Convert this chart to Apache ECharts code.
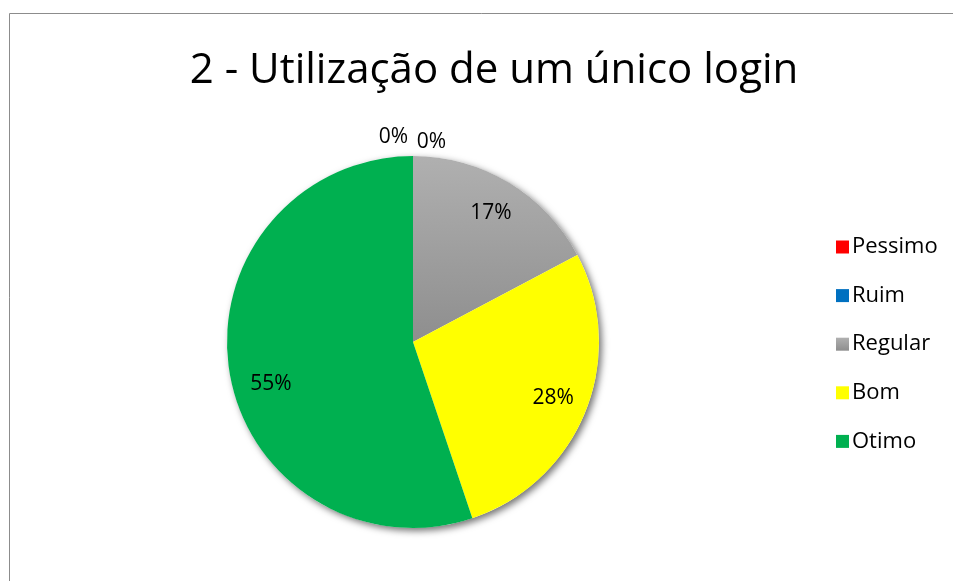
<!DOCTYPE html>
<html>
<head>
<meta charset="utf-8">
<script src="https://cdn.jsdelivr.net/npm/echarts@6/dist/echarts.min.js"></script>
<style>
  html, body { margin: 0; padding: 0; background: #fff; }
  #main { width: 953px; height: 581px; }
</style>
</head>
<body>
<div id="main"></div>
<script>
// categorias e respostas (29 respostas no total)
var categorias = ['Pessimo', 'Ruim', 'Regular', 'Bom', 'Otimo'];
var respostas = [0, 0, 5, 8, 16];
var cores = ['#ff0000', '#0070c0', 'regular', '#ffff00', '#00b050'];

var myChart = echarts.init(document.getElementById('main'));

var corRegular = new echarts.graphic.LinearGradient(0, 0, 0, 1, [
    {offset: 0, color: '#b0b0b0'},
    {offset: 1, color: '#8e8e8e'}
]);

function corDe(i) {
    return cores[i] === 'regular' ? corRegular : cores[i];
}

var total = respostas.reduce(function (a, b) { return a + b; }, 0);
function pct(v) { return Math.round(v / total * 100) + '%'; }

// deslocamento dos rótulos (ajuste fino para ficar igual ao Excel)
var desloc = [[0, -15], [38, -10], [0, 0], [0, 0], [7, 18]];

// fatias principais (labels dos zeros ficam fora, no topo)
var dadosPizza = categorias.map(function (nome, i) {
    var item = {name: nome, value: respostas[i], itemStyle: {color: corDe(i)}};
    if (respostas[i] === 0) {
        item.label = {show: true, position: 'outside', offset: desloc[i]};
    } else {
        item.label = {show: false};
    }
    return item;
});

// serie só para os rótulos internos (mais perto da borda)
var dadosRotulos = categorias.map(function (nome, i) {
    return {
        name: nome,
        value: respostas[i],
        itemStyle: {color: 'rgba(0,0,0,0)'},
        label: {show: respostas[i] > 0, offset: desloc[i]}
    };
});

var option = {
    backgroundColor: '#fff',
    animation: false,
    title: {
        text: '2 - Utilização de um único login',
        left: 489,
        textAlign: 'center',
        top: 45,
        textStyle: {
            fontFamily: 'Open Sans',
            fontSize: 42,
            fontWeight: 'normal',
            color: '#000'
        }
    },
    legend: {
        orient: 'vertical',
        left: 831,
        top: 231,
        itemWidth: 13,
        itemHeight: 13,
        itemGap: 26.6,
        icon: 'rect',
        data: categorias,
        textStyle: {
            fontFamily: 'Open Sans',
            fontSize: 22,
            lineHeight: 20,
            color: '#000',
            padding: [0, 0, 0, -2]
        }
    },
    graphic: [{
        type: 'polyline',
        silent: true,
        shape: {points: [[9.5, 581], [9.5, 13.5], [953, 13.5]]},
        style: {stroke: '#8c8c8c', lineWidth: 1, fill: null}
    }],
    series: [
        {
            // sombra da pizza
            type: 'pie',
            silent: true,
            center: [413, 342],
            radius: [0, 186],
            z: 1,
            label: {show: false},
            labelLine: {show: false},
            itemStyle: {
                color: '#fff',
                shadowBlur: 7,
                shadowOffsetX: 3,
                shadowOffsetY: 3,
                shadowColor: 'rgba(0,0,0,0.55)'
            },
            data: [{name: '', value: 1}]
        },
        {
            type: 'pie',
            center: [413, 342],
            radius: [0, 186],
            startAngle: 90,
            clockwise: true,
            z: 2,
            avoidLabelOverlap: false,
            silent: true,
            label: {
                formatter: function (p) { return pct(p.value); },
                fontFamily: 'Open Sans',
                fontSize: 21,
                color: '#000'
            },
            labelLine: {show: false, length: 4, length2: 0},
            itemStyle: {borderWidth: 0},
            data: dadosPizza
        },
        {
            type: 'pie',
            center: [413, 342],
            radius: [0, 296],
            startAngle: 90,
            clockwise: true,
            z: 3,
            silent: true,
            avoidLabelOverlap: false,
            label: {
                position: 'inside',
                formatter: function (p) { return pct(p.value); },
                fontFamily: 'Open Sans',
                fontSize: 21,
                color: '#000'
            },
            labelLine: {show: false},
            data: dadosRotulos
        }
    ]
};

myChart.setOption(option);
</script>
</body>
</html>
